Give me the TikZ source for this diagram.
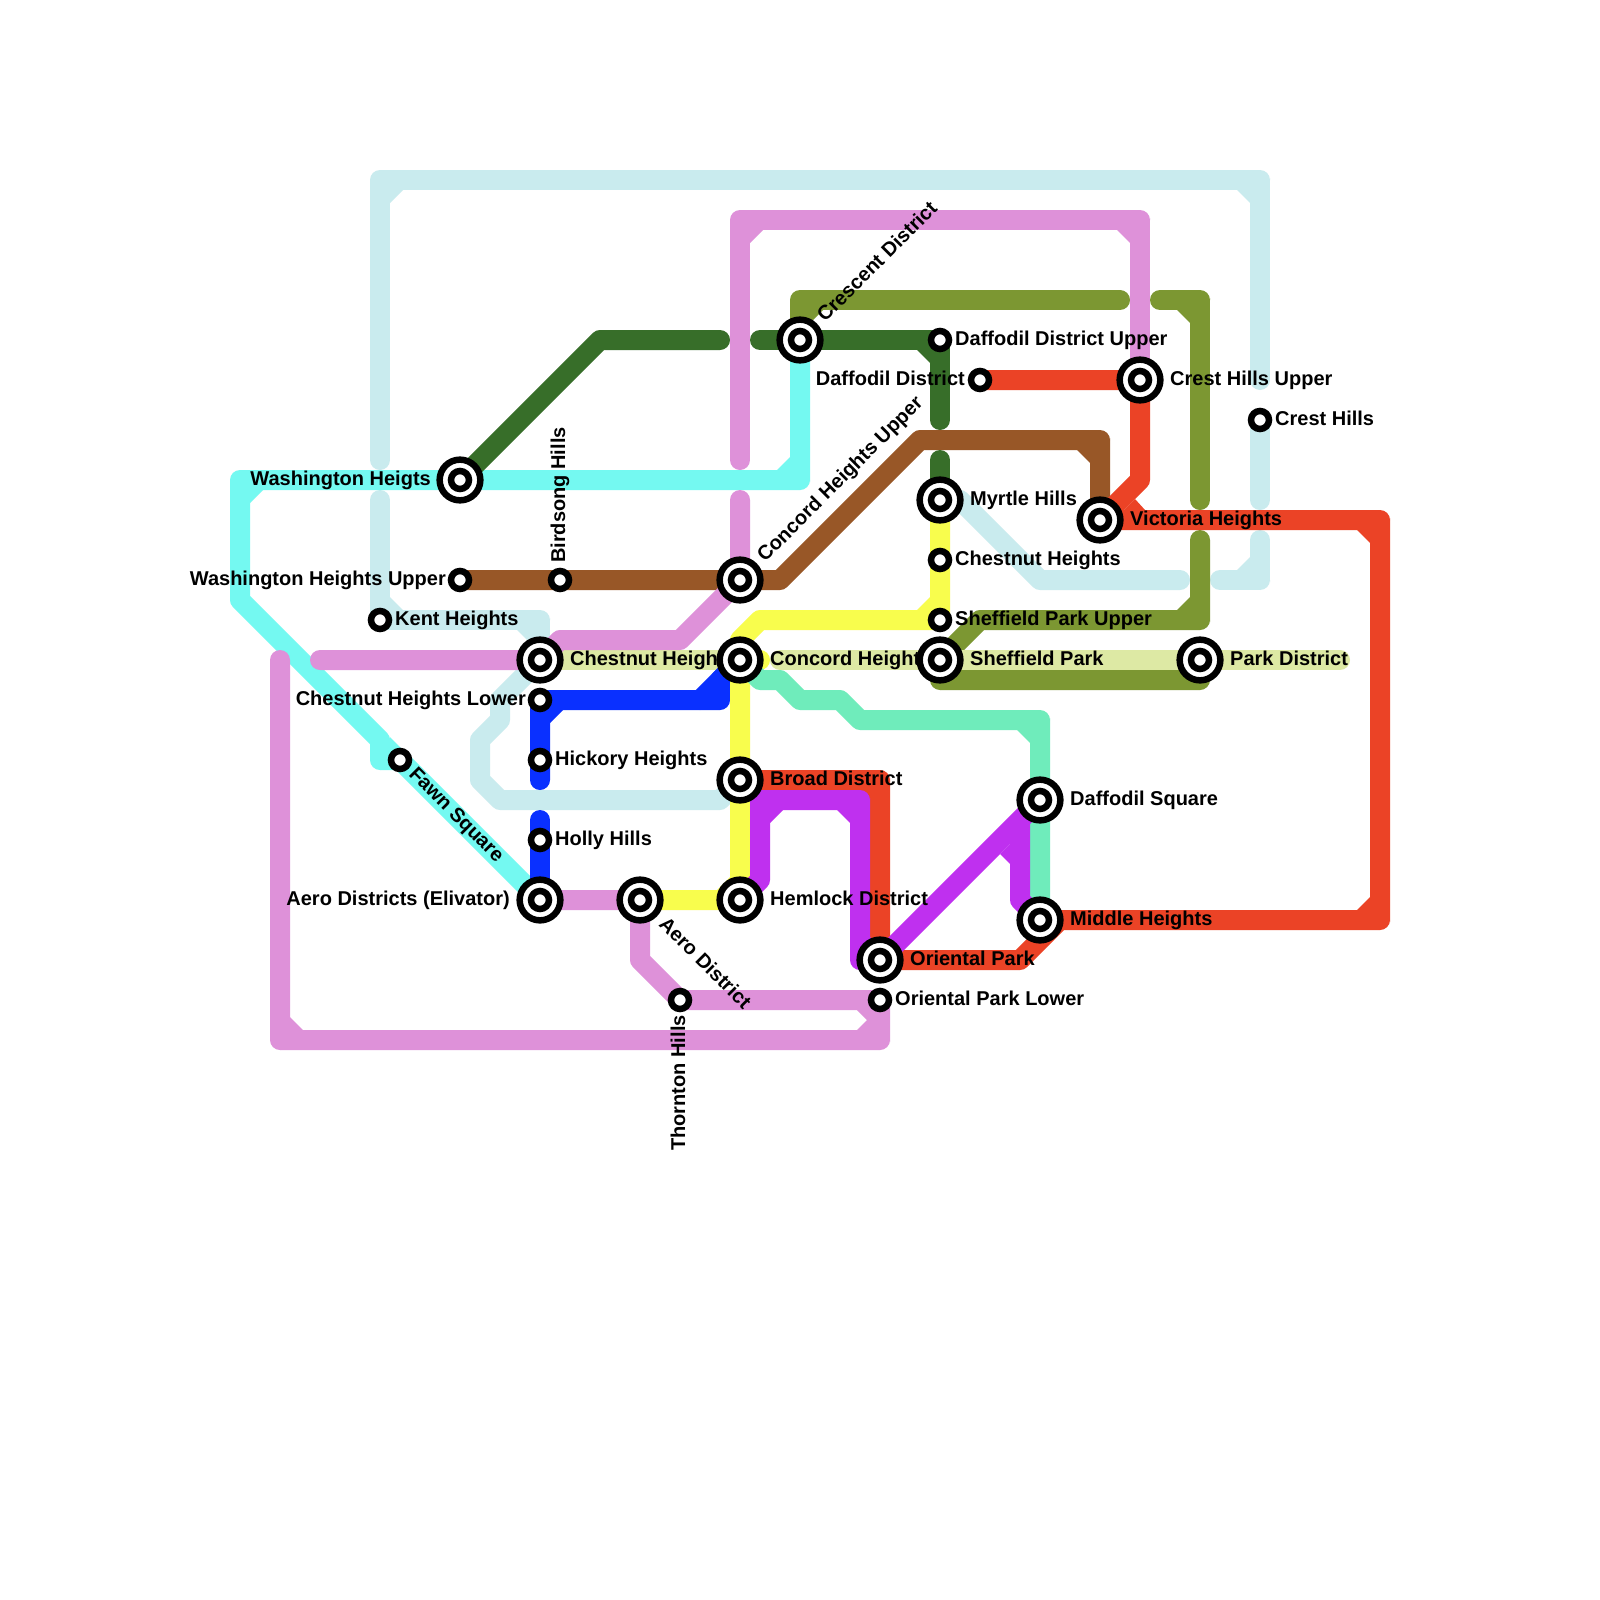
\documentclass[tikz,border=0pt]{standalone}
\usepackage{fontspec}
\setmainfont{Liberation Sans}
\pgfdeclarelayer{lines}
\pgfdeclarelayer{labels}
\pgfsetlayers{lines,labels,main}
\definecolor{palec}{HTML}{C9EBEE}
\definecolor{aquac}{HTML}{74F9F1}
\definecolor{pinkc}{HTML}{DE91D9}
\definecolor{dgreenc}{HTML}{376E29}
\definecolor{olivec}{HTML}{7C9732}
\definecolor{brownc}{HTML}{985727}
\definecolor{redc}{HTML}{EB4326}
\definecolor{yellowc}{HTML}{F8FD4D}
\definecolor{lightc}{HTML}{DDE9A4}
\definecolor{bluec}{HTML}{0A30FF}
\definecolor{violetc}{HTML}{BF30EF}
\definecolor{tealc}{HTML}{6FECBB}
\newcommand\crn[4]{%
  \fill (#1,#2) -- ({#1+10*#3},#2) -- ({#1+10*#3},{#2+2*#4}) arc[start angle={(#3>0 ? 0 : 180)},delta angle={(#3*#4>0 ? 90 : -90)},radius=8pt] -- (#1,{#2+10*#4}) -- cycle;
  \fill (#1,#2) -- ({#1-23*#3},{#2-10*#4}) -- ({#1-10*#3},{#2-23*#4}) -- cycle;}
\tikzset{
  metro/.style={line width=20pt,line cap=round,line join=round},
  bigst/.style={circle,draw=black,fill=white,line width=6.5pt,minimum size=40.7pt,inner sep=0pt,
    path picture={\draw[black,line width=6.5pt] (path picture bounding box.center) circle (9pt);}},
  smallst/.style={circle,draw=black,fill=white,line width=6.5pt,minimum size=18pt,inner sep=0pt},
  lbl/.style={font=\fontsize{20}{24}\selectfont\bfseries,text=black,inner sep=0pt},
  lblr/.style={lbl,anchor=base west},
  lbll/.style={lbl,anchor=base east}
}
\begin{document}
\begin{tikzpicture}[x=1pt,y=-1pt]
\useasboundingbox (0,0) rectangle (1600,1600);
% stations
\node[bigst] (wh) at (460,480) {};
\node[smallst] (wu) at (460,580) {};
\node[smallst] (bird) at (560,580) {};
\node[smallst] (kent) at (380,620) {};
\node[bigst] (chest) at (540,660) {};
\node[bigst] (conc) at (740,660) {};
\node[bigst] (concu) at (740,580) {};
\node[bigst] (cres) at (800,340) {};
\node[smallst] (ddu) at (940,340) {};
\node[smallst] (dd) at (980,380) {};
\node[bigst] (chu) at (1140,380) {};
\node[smallst] (ch) at (1260,420) {};
\node[bigst] (myr) at (940,500) {};
\node[smallst] (chs) at (940,560) {};
\node[bigst] (vic) at (1100,520) {};
\node[smallst] (spu) at (940,620) {};
\node[bigst] (sp) at (940,660) {};
\node[bigst] (pd) at (1200,660) {};
\node[smallst] (chl) at (540,700) {};
\node[smallst] (hick) at (540,760) {};
\node[smallst] (holly) at (540,840) {};
\node[bigst] (aeros) at (540,900) {};
\node[bigst] (aero) at (640,900) {};
\node[bigst] (hem) at (740,900) {};
\node[bigst] (broad) at (740,780) {};
\node[smallst] (fawn) at (400,760) {};
\node[smallst] (thorn) at (680,1000) {};
\node[bigst] (op) at (880,960) {};
\node[smallst] (opl) at (880,1000) {};
\node[bigst] (dsq) at (1040,800) {};
\node[bigst] (mid) at (1040,920) {};
\begin{pgfonlayer}{lines}
\fill[white] (0,0) rectangle (1600,1600);
% pale blue
\begin{scope}[color=palec]
\draw[metro] (380,460) -- (380,180) -- (1260,180) -- (1260,380);
\draw[metro] (ch.center) -- (1260,500);
\draw[metro] (1260,540) -- (1260,580) -- (1220,580);
\draw[metro] (1180,580) -- (1040,580) -- (960,500) -- (myr.center);
\draw[metro] (380,500) -- (kent.center) -- (540,620) -- (chest.center);
\draw[metro] (chest.center) -- (500,700) -- (500,720) -- (480,740) -- (480,780) -- (500,800) -- (720,800) -- (broad.center);
\crn{380}{180}{-1}{-1}\crn{1260}{180}{1}{-1}\crn{1260}{580}{1}{1}\crn{380}{620}{-1}{1}\crn{540}{620}{1}{-1}
\end{scope}
% aqua
\begin{scope}[color=aquac]
\draw[metro] (cres.center) -- (800,480) -- (wh.center) -- (240,480) -- (240,600) -- (380,740) -- (380,760) -- (fawn.center) -- (aeros.center);
\crn{240}{480}{-1}{-1}\crn{800}{480}{1}{1}\crn{380}{760}{-1}{1}
\end{scope}
% brown
\begin{scope}[color=brownc]
\draw[metro] (wu.center) -- (concu.center) -- (780,580) -- (920,440) -- (1100,440) -- (vic.center);
\crn{1100}{440}{1}{-1}
\end{scope}
% dark green
\begin{scope}[color=dgreenc]
\draw[metro] (wh.center) -- (600,340) -- (720,340);
\draw[metro] (760,340) -- (ddu.center) -- (940,420);
\draw[metro] (940,460) -- (myr.center);
\crn{940}{340}{1}{-1}
\end{scope}
% olive
\begin{scope}[color=olivec]
\draw[metro] (cres.center) -- (800,300) -- (1120,300);
\draw[metro] (1160,300) -- (1200,300) -- (1200,500);
\draw[metro] (1200,540) -- (1200,620) -- (980,620) -- (sp.center) -- (940,680) -- (1200,680) -- (pd.center);
\crn{800}{300}{-1}{-1}\crn{1200}{300}{1}{-1}\crn{1200}{620}{1}{1}\crn{940}{680}{-1}{1}\crn{1200}{680}{1}{1}
\end{scope}
% light
\begin{scope}[color=lightc]
\draw[metro] (chest.center) -- (720,660);
\draw[metro] (780,660) -- (1340,660);
\end{scope}
% blue
\begin{scope}[color=bluec]
\draw[metro] (540,780) -- (chl.center) -- (720,700) -- (720,680) -- (conc.center);
\draw[metro] (700,700) -- (conc.center);
\draw[metro] (540,820) -- (aeros.center);
\crn{540}{700}{-1}{-1}\crn{720}{700}{1}{1}
\end{scope}
% red
\begin{scope}[color=redc]
\draw[metro] (broad.center) -- (880,780) -- (op.center) -- (1020,960) -- (1060,920) -- (1380,920) -- (1380,520) -- (vic.center) -- (1140,480) -- (chu.center) -- (dd.center);
\crn{880}{780}{1}{-1}\crn{880}{960}{-1}{1}\crn{1380}{520}{1}{-1}\crn{1380}{920}{1}{1}
\fill (1124,510) -- (1135,499) -- (1145,510) -- cycle;
\end{scope}
% yellow
\begin{scope}[color=yellowc]
\draw[metro] (myr.center) -- (spu.center) -- (760,620) -- (740,640) -- (hem.center) -- (aero.center);
\draw[metro] (conc.center) -- (760,660);
\crn{940}{620}{1}{1}\crn{740}{900}{1}{1}
\end{scope}
% teal
\begin{scope}[color=tealc]
\draw[metro] (conc.center) -- (760,680) -- (780,680) -- (800,700) -- (840,700) -- (860,720) -- (1040,720) -- (mid.center);
\crn{1040}{720}{1}{-1}
\end{scope}
% pink
\begin{scope}[color=pinkc]
\draw[metro] (740,460) -- (740,220) -- (1140,220) -- (chu.center);
\draw[metro] (740,500) -- (concu.center) -- (680,640) -- (560,640) -- (chest.center) -- (320,660);
\draw[metro] (280,660) -- (280,1040) -- (880,1040) -- (opl.center) -- (thorn.center) -- (640,960) -- (aero.center) -- (aeros.center);
\crn{740}{220}{-1}{-1}\crn{1140}{220}{1}{-1}\crn{280}{1040}{-1}{1}\crn{880}{1040}{1}{1}\crn{880}{1000}{1}{-1}
\end{scope}
% violet
\begin{scope}[color=violetc]
\draw[metro] (hem.center) -- (760,880) -- (760,800) -- (860,800) -- (860,960) -- (op.center) -- (dsq.center) -- (1020,820) -- (1020,900) -- (mid.center);
\crn{760}{800}{-1}{-1}\crn{860}{800}{1}{-1}\crn{860}{960}{-1}{1}
\fill (1010,844) -- (1000,854) -- (1010,864) -- cycle;
\end{scope}
\end{pgfonlayer}
\begin{pgfonlayer}{labels}
\node[lbll] (lwh) at (431,485) {Washington Heigts};
\node[lbll] (lwu) at (446,585) {Washington Heights Upper};
\node[lblr,rotate=90] (lbird) at (565,563) {Birdsong Hills};
\node[lblr] (lkent) at (395,625) {Kent Heights};
\node[lblr] (lchest) at (570,665) {Chestnut Heights};
\node[lblr] (lconc) at (770,665) {Concord Heights};
\node[lblr,rotate=45] (lconcu) at (765,563) {Concord Heights Upper};
\node[lblr,rotate=45] (lcres) at (825,323) {Crescent District};
\node[lblr] (lddu) at (955,345) {Daffodil District Upper};
\node[lbll] (ldd) at (965,385) {Daffodil District};
\node[lblr] (lchu) at (1170,385) {Crest Hills Upper};
\node[lblr] (lch) at (1275,425) {Crest Hills};
\node[lblr] (lmyr) at (970,505) {Myrtle Hills};
\node[lblr] (lchs) at (955,565) {Chestnut Heights};
\node[lblr] (lvic) at (1130,525) {Victoria Heights};
\node[lblr] (lspu) at (955,625) {Sheffield Park Upper};
\node[lblr] (lsp) at (970,665) {Sheffield Park};
\node[lblr] (lpd) at (1230,665) {Park District};
\node[lbll] (lchl) at (526,705) {Chestnut Heights Lower};
\node[lblr] (lhick) at (555,765) {Hickory Heights};
\node[lblr] (lholly) at (555,845) {Holly Hills};
\node[lbll] (laeros) at (510,905) {Aero Districts (Elivator)};
\node[lblr,rotate=-45] (laero) at (658,925) {Aero District};
\node[lblr] (lhem) at (770,905) {Hemlock District};
\node[lblr] (lbroad) at (770,785) {Broad District};
\node[lblr,rotate=-45] (lfawn) at (408,775) {Fawn Square};
\node[lbll,rotate=90] (lthorn) at (685,1015) {Thornton Hills};
\node[lblr] (lop) at (910,965) {Oriental Park};
\node[lblr] (lopl) at (895,1005) {Oriental Park Lower};
\node[lblr] (ldsq) at (1070,805) {Daffodil Square};
\node[lblr] (lmid) at (1070,925) {Middle Heights};
\end{pgfonlayer}
\end{tikzpicture}
\end{document}
